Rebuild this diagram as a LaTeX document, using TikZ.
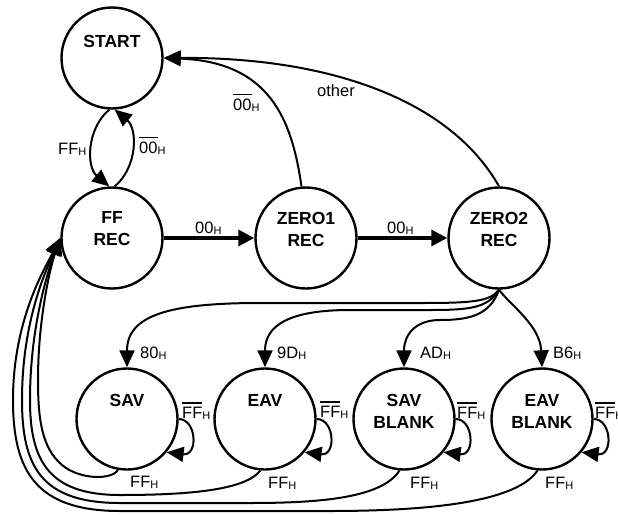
\documentclass[tikz,border=0pt]{standalone}
\usepackage{fontspec}
\setmainfont{Liberation Sans}
\usetikzlibrary{arrows.meta}
\newcommand{\ovl}[1]{\leavevmode\vbox{\hrule height 1.4pt\kern 3pt\hbox{#1}}}
\newcommand{\hsub}{\raisebox{-1.5pt}{\fontsize{11}{12}\selectfont H}}
\begin{document}
\begin{tikzpicture}[x=1pt,y=-1pt,
  state/.style={circle,draw,line width=2.4pt,minimum size=101pt,inner sep=0pt},
  stext/.style={font=\fontsize{17.5}{22}\selectfont\bfseries,align=center,inner sep=0pt},
  lab/.style={font=\fontsize{16.5}{20}\selectfont,anchor=base west,inner sep=0pt},
  conn/.style={line width=2pt,-{Triangle[length=17pt,width=15pt]}},
  bigconn/.style={line width=3.4pt,-{Triangle[length=16pt,width=16pt]}}]
\useasboundingbox (0,0) rectangle (618,514);

% states
\node[state] (START) at (112,58) {};
\node[state] (FF) at (112,238) {};
\node[state] (Z1) at (306,238) {};
\node[state] (Z2) at (499,238) {};
\node[state] (SAV) at (127,419) {};
\node[state] (EAV) at (265,419) {};
\node[state] (SAVB) at (404,419) {};
\node[state] (EAVB) at (542,419) {};

% state texts
\node[stext] (tSTART) at (112,41) {START};
\node[stext] (tFF) at (112,229) {FF\\REC};
\node[stext] (tZ1) at (306,229) {ZERO1\\REC};
\node[stext] (tZ2) at (499,229) {ZERO2\\REC};
\node[stext] (tSAV) at (127,400) {SAV};
\node[stext] (tEAV) at (265,400) {EAV};
\node[stext] (tSAVB) at (404,411) {SAV\\BLANK};
\node[stext] (tEAVB) at (542,411) {EAV\\BLANK};

% START <-> FF REC
\draw[conn] (START.-93) to[bend right=50] (FF.93);
\draw[conn] (FF.87) to[bend right=50] (START.-87);
\node[lab] (l1) at (58,154) {FF\hsub};
\node[lab] (l2) at (139,153) {\ovl{00}\hsub};

% back to START
\draw[conn] (Z1.95) .. controls (292,120) and (270,62) .. (START.east);
\draw[conn] (Z2.north) .. controls (450,100) and (330,57) .. (START.east);
\node[lab] (l3) at (233,110) {\ovl{00}\hsub};
\node[lab] (l4) at (317,96) {other};

% horizontal
\draw[bigconn] (FF.east) -- (Z1.west);
\draw[bigconn] (Z1.east) -- (Z2.west);
\node[lab] (l5) at (195,233) {00\hsub};
\node[lab] (l6) at (387,233) {00\hsub};

% ZERO2 to bottom row
\draw[conn] (Z2.south) .. controls (490,302) and (470,303) .. (420,303) -- (260,303)
   .. controls (170,303) and (127,315) .. (SAV.north);
\draw[conn] (Z2.south) .. controls (488,308) and (470,310) .. (430,310) -- (350,310)
   .. controls (290,310) and (265,325) .. (EAV.north);
\draw[conn] (Z2.south) .. controls (490,315) and (470,320) .. (440,320)
   .. controls (415,320) and (404,335) .. (SAVB.north);
\draw[conn] (Z2.south) .. controls (510,305) and (540,325) .. (EAVB.north);
\node[lab] (l7) at (140,358) {80\hsub};
\node[lab] (l8) at (277,358) {9D\hsub};
\node[lab] (l9) at (420,358) {AD\hsub};
\node[lab] (l10) at (553,358) {B6\hsub};

% self loops
\draw[conn] (SAV.east) .. controls +(18,0) and +(32,4) .. (SAV.-40);
\draw[conn] (EAV.east) .. controls +(18,0) and +(32,4) .. (EAV.-40);
\draw[conn] (SAVB.east) .. controls +(18,0) and +(32,4) .. (SAVB.-40);
\draw[conn] (EAVB.east) .. controls +(18,0) and +(32,4) .. (EAVB.-40);
\node[lab] (l11) at (182,418) {\ovl{FF}\hsub};
\node[lab] (l12) at (320,417) {\ovl{FF}\hsub};
\node[lab] (l13) at (457,418) {\ovl{FF}\hsub};
\node[lab] (l14) at (595,418) {\ovl{FF}\hsub};

% back to FF REC
\draw[conn] (SAV.-100) .. controls (112,480) and (80,480) .. (62,465)
   .. controls (42,448) and (38,420) .. (38,380)
   .. controls (38,320) and (50,268) .. (FF.west);
\draw[conn] (EAV.-95) .. controls (245,490) and (190,495) .. (120,495)
   .. controls (48,495) and (30,460) .. (30,400)
   .. controls (30,325) and (49,268) .. (FF.west);
\draw[conn] (SAVB.-95) .. controls (382,498) and (320,503) .. (250,503) -- (120,503)
   .. controls (40,503) and (22,465) .. (22,400)
   .. controls (22,320) and (47,268) .. (FF.west);
\draw[conn] (EAVB.-95) .. controls (518,500) and (440,511) .. (330,511) -- (120,511)
   .. controls (35,511) and (13,470) .. (13,400)
   .. controls (13,320) and (45,268) .. (FF.west);
\node[lab] (l15) at (130,487) {FF\hsub};
\node[lab] (l16) at (268,488) {FF\hsub};
\node[lab] (l17) at (410,488) {FF\hsub};
\node[lab] (l18) at (545,488) {FF\hsub};
\end{tikzpicture}
\end{document}
